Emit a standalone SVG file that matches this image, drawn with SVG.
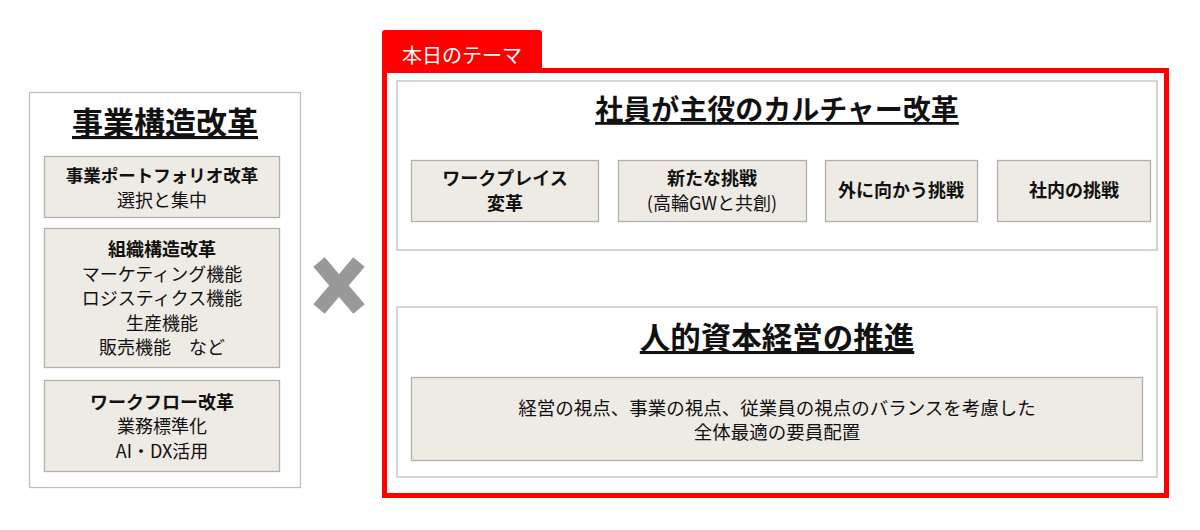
<svg xmlns="http://www.w3.org/2000/svg" width="1200" height="530" viewBox="0 0 1200 530">
<style>
text{font-family:"Noto Sans CJK JP","Noto Sans",sans-serif;fill:#111;text-anchor:middle}
.panel{fill:#fff;stroke:#bfbfbf;stroke-width:1.3}
.box{fill:#eeeae4;stroke:#b3b0ab;stroke-width:1.3}
.b{font-weight:bold;font-size:18px}
.r{font-size:18px}
.t{font-weight:bold;text-decoration:underline}
</style>
<rect width="1200" height="530" fill="#fff"/>
<g id="left-panel">
<rect class="panel" x="29.5" y="92.5" width="271" height="395"/>
<text class="t" x="165" y="134" font-size="31">事業構造改革</text>
</g>
<g id="node-portfolio">
<rect class="box" x="44.5" y="156.5" width="235" height="61"/>
<text class="b" x="162" y="182" style="font-size:17.5px">事業ポートフォリオ改革</text>
<text class="r" x="162" y="207">選択と集中</text>
</g>
<g id="node-org">
<rect class="box" x="44.5" y="228.5" width="235" height="139"/>
<text class="b" x="162" y="256">組織構造改革</text>
<text class="r" x="162" y="281">マーケティング機能</text>
<text class="r" x="162" y="305">ロジスティクス機能</text>
<text class="r" x="162" y="330">生産機能</text>
<text class="r" x="162" y="354">販売機能　など</text>
</g>
<g id="node-workflow">
<rect class="box" x="44.5" y="380.5" width="235" height="91"/>
<text class="b" x="162" y="409">ワークフロー改革</text>
<text class="r" x="162" y="433">業務標準化</text>
<text class="r" x="162" y="458">AI・DX活用</text>
</g>
<g id="cross">
<path d="M319 262 L359 309 M359 262 L319 309" stroke="#999" stroke-width="15" fill="none"/>
</g>
<g id="theme-frame">
<path d="M382 68 L382 33 Q382 30 385 30 L539 30 Q542 30 542 33 L542 71 Z" fill="#ff0000"/>
<rect x="384.5" y="70.5" width="782" height="425" fill="none" stroke="#ff0000" stroke-width="5"/>
<text x="462" y="63" font-size="20" style="fill:#fff">本日のテーマ</text>
</g>
<g id="culture-panel">
<rect class="panel" x="397" y="81" width="760" height="169"/>
<text class="t" x="777" y="120" font-size="28">社員が主役のカルチャー改革</text>
</g>
<g id="node-workplace">
<rect class="box" x="411.5" y="160.5" width="187" height="61"/>
<text class="b" x="505" y="185">ワークプレイス</text>
<text class="b" x="505" y="210">変革</text>
</g>
<g id="node-new">
<rect class="box" x="618.5" y="160.5" width="188" height="61"/>
<text class="b" x="712" y="185">新たな挑戦</text>
<text class="r" x="712" y="210">(高輪GWと共創)</text>
</g>
<g id="node-outside">
<rect class="box" x="825.5" y="160.5" width="152" height="61"/>
<text class="b" x="901" y="197">外に向かう挑戦</text>
</g>
<g id="node-inside">
<rect class="box" x="997.5" y="160.5" width="153" height="61"/>
<text class="b" x="1074" y="197">社内の挑戦</text>
</g>
<g id="hr-panel">
<rect class="panel" x="397" y="307" width="760" height="170"/>
<text class="t" x="777" y="349" font-size="30.5">人的資本経営の推進</text>
</g>
<g id="node-hr">
<rect class="box" x="411.5" y="377.5" width="731" height="83"/>
<text class="r" x="777" y="415" style="font-size:18.5px">経営の視点、事業の視点、従業員の視点のバランスを考慮した</text>
<text class="r" x="777" y="439" style="font-size:18.5px">全体最適の要員配置</text>
</g>
<g id="connectors"/>
</svg>
